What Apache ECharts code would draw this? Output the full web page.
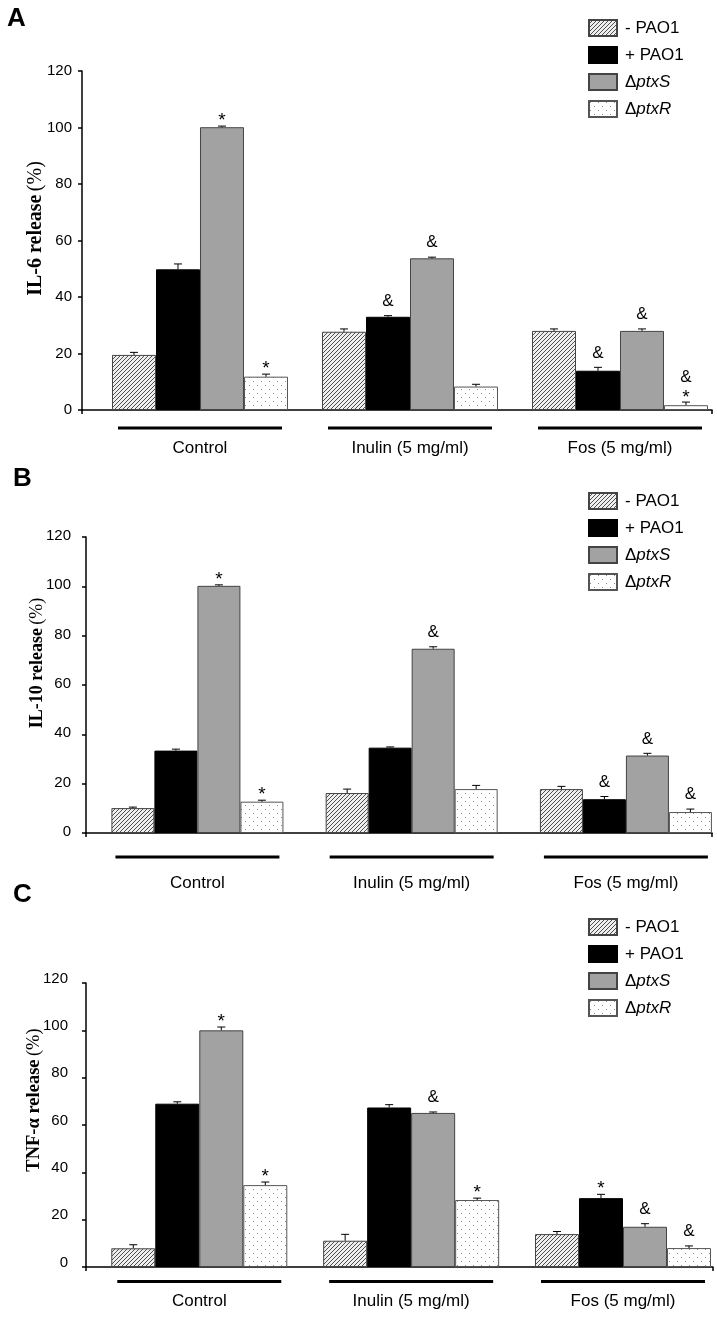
<!DOCTYPE html>
<html>
<head>
<meta charset="utf-8">
<script src="https://cdn.jsdelivr.net/npm/echarts@6/dist/echarts.min.js"></script>
<style>
html,body{margin:0;padding:0;background:#fff;}
#chart{width:717px;height:1318px;}
</style>
</head>
<body>
<div id="chart"></div>
<script>
// ---------- DATA ----------
const categories = ['Control', 'Inulin (5 mg/ml)', 'Fos (5 mg/ml)'];
const seriesNames = ['- PAO1', '+ PAO1', 'ΔptxS', 'ΔptxR'];
const yTickLabels = [0, 20, 40, 60, 80, 100, 120];

// Panel A: IL-6 release (%)
const il6Minus = [19.5, 27.7, 28.0];
const il6Plus  = [49.8, 33.0, 13.9];
const il6PtxS  = [100.1, 53.7, 28.0];
const il6PtxR  = [11.8, 8.3, 1.7];
const il6MinusErr = [0.9, 1.0, 0.7];
const il6PlusErr  = [1.9, 0.4, 1.2];
const il6PtxSErr  = [0.4, 0.4, 0.7];
const il6PtxRErr  = [0.9, 0.8, 1.1];
const il6Marks = [['', '', ''], ['', '&', '&'], ['*', '&', '&'], ['*', '', '&*']];

// Panel B: IL-10 release (%)
const il10Minus = [10.1, 16.2, 17.8];
const il10Plus  = [33.4, 34.6, 13.7];
const il10PtxS  = [100.2, 74.7, 31.4];
const il10PtxR  = [12.7, 17.8, 8.5];
const il10MinusErr = [0.4, 1.6, 1.1];
const il10PlusErr  = [0.6, 0.3, 1.1];
const il10PtxSErr  = [0.4, 0.8, 0.9];
const il10PtxRErr  = [0.6, 1.5, 1.2];
const il10Marks = [['', '', ''], ['', '', '&'], ['*', '&', '&'], ['*', '', '&']];

// Panel C: TNF-α release (%)
const tnfMinus = [7.9, 11.1, 13.9];
const tnfPlus  = [69.0, 67.4, 29.1];
const tnfPtxS  = [100.0, 65.1, 17.0];
const tnfPtxR  = [34.6, 28.3, 8.0];
const tnfMinusErr = [1.5, 2.7, 1.1];
const tnfPlusErr  = [0.8, 1.2, 1.6];
const tnfPtxSErr  = [1.4, 0.4, 1.3];
const tnfPtxRErr  = [1.3, 0.8, 0.9];
const tnfMarks = [['', '', ''], ['', '', '*'], ['*', '&', '&'], ['*', '*', '&']];

const panelTags = ['A', 'B', 'C'];
const yNames = [['IL-6 release', '(%)'], ['IL-10 release', '(%)'], ['TNF-α release', '(%)']];

// ---------- STYLE / LAYOUT ----------
const SANS = 'Liberation Sans, Arial, sans-serif';
const SERIF = 'Liberation Serif, Times New Roman, serif';

function hatchPattern() {
  const c = document.createElement('canvas');
  c.width = 4; c.height = 4;
  const g = c.getContext('2d');
  g.fillStyle = '#eeeeee'; g.fillRect(0, 0, 4, 4);
  g.strokeStyle = '#505050'; g.lineWidth = 1;
  g.beginPath();
  g.moveTo(0, 4); g.lineTo(4, 0);
  g.moveTo(-1, 1); g.lineTo(1, -1);
  g.moveTo(3, 5); g.lineTo(5, 3);
  g.stroke();
  return c;
}
function dotPattern() {
  const c = document.createElement('canvas');
  c.width = 8; c.height = 8;
  const g = c.getContext('2d');
  g.fillStyle = '#ffffff'; g.fillRect(0, 0, 8, 8);
  g.fillStyle = '#8a8a8a';
  g.fillRect(1, 1, 1, 1);
  g.fillRect(5, 5, 1, 1);
  return c;
}
const fills = [
  { image: hatchPattern(), repeat: 'repeat' },
  '#000000',
  '#a2a2a2',
  { image: dotPattern(), repeat: 'repeat' }
];
const borders = ['#444', '#000', '#444', '#555'];

// xMin/xMax place the three group centres (x = 0, 1, 2) where the reference has them
const layout = [
  { top: 71, height: 339, axisX: 82, axisW: 630, xMin: -0.5619, xMax: 2.4381, bw: 44,
    catOffset: 38, ulGap: 18, legendTop: 19, nameGap: 36, namePad: 24, nameSize: 20,
    tagLeft: 7, tagTop: 6, labelMargin: 10, labelLH: 0 },
  { top: 537, height: 296, axisX: 86, axisW: 626, xMin: -0.52, xMax: 2.4018, bw: 43,
    catOffset: 50.6, ulGap: 24, legendTop: 492, nameGap: 40, namePad: 44, nameSize: 18,
    tagLeft: 13, tagTop: 466, labelMargin: 15, labelLH: 2 },
  { top: 983, height: 284, axisX: 86, axisW: 627, xMin: -0.5348, xMax: 2.4249, bw: 44,
    catOffset: 34.4, ulGap: 14.4, legendTop: 918, nameGap: 42, namePad: 50, nameSize: 18.5,
    tagLeft: 13, tagTop: 882, labelMargin: 18, labelLH: 9 }
];

const panels = [
  { values: [il6Minus, il6Plus, il6PtxS, il6PtxR], errs: [il6MinusErr, il6PlusErr, il6PtxSErr, il6PtxRErr], marks: il6Marks },
  { values: [il10Minus, il10Plus, il10PtxS, il10PtxR], errs: [il10MinusErr, il10PlusErr, il10PtxSErr, il10PtxRErr], marks: il10Marks },
  { values: [tnfMinus, tnfPlus, tnfPtxS, tnfPtxR], errs: [tnfMinusErr, tnfPlusErr, tnfPtxSErr, tnfPtxRErr], marks: tnfMarks }
];

const option = {
  animation: false,
  backgroundColor: '#ffffff',
  title: [], legend: [], grid: [], xAxis: [], yAxis: [], series: []
};

panels.forEach((P, p) => {
  const L = layout[p];
  option.title.push({
    text: panelTags[p], left: L.tagLeft, top: L.tagTop, padding: 0,
    textStyle: { fontFamily: SANS, fontSize: 26, fontWeight: 'bold', color: '#000' }
  });
  option.legend.push({
    data: seriesNames, left: 588, top: L.legendTop, orient: 'vertical',
    itemWidth: 28, itemHeight: 16, itemGap: 9, padding: 0, selectedMode: false,
    icon: 'rect',
    formatter: n => n.charAt(0) === 'Δ' ? '{d|Δ}{i|' + n.slice(1) + '}' : '{t|' + n + '}',
    textStyle: {
      color: '#000', fontFamily: SANS, fontSize: 17, lineHeight: 17, padding: [0, 0, 0, 3],
      rich: {
        t: { fontFamily: SANS, fontSize: 17, lineHeight: 17, color: '#000' },
        d: { fontFamily: SANS, fontSize: 17, lineHeight: 17, color: '#000' },
        i: { fontFamily: SANS, fontSize: 17, lineHeight: 17, fontStyle: 'italic', color: '#000' }
      }
    }
  });
  option.grid.push({ left: L.axisX, width: L.axisW, top: L.top, height: L.height });

  option.xAxis.push({
    gridIndex: p, type: 'value', min: L.xMin, max: L.xMax,
    axisLine: { show: true, onZero: false, lineStyle: { color: '#000', width: 1.5 } },
    axisTick: { show: true, length: 4, customValues: [L.xMin, L.xMax], lineStyle: { color: '#000', width: 1.5 } },
    axisLabel: { show: false }, splitLine: { show: false }
  });
  const labelStyle = L.labelLH > 0
    ? { verticalAlign: 'bottom', lineHeight: L.labelLH }
    : { verticalAlign: 'middle' };
  option.yAxis.push({
    gridIndex: p, type: 'value', min: 0, max: 120, interval: 20,
    axisLine: { show: true, onZero: false, lineStyle: { color: '#000', width: 1.5 } },
    axisTick: { show: true, length: 4, lineStyle: { color: '#000', width: 1.5 } },
    axisLabel: Object.assign({
      margin: L.labelMargin, fontFamily: SANS, fontSize: 15, color: '#000',
      formatter: v => String(yTickLabels[yTickLabels.indexOf(v)])
    }, labelStyle),
    splitLine: { show: false },
    name: '{b|' + yNames[p][0] + '} {n|' + yNames[p][1] + '}',
    nameLocation: 'middle', nameGap: L.nameGap, nameRotate: 90, nameMoveOverlap: false,
    nameTextStyle: {
      padding: [0, 0, 0, L.namePad],
      rich: {
        b: { fontFamily: SERIF, fontSize: L.nameSize, fontWeight: 'bold', color: '#000' },
        n: { fontFamily: SERIF, fontSize: L.nameSize, color: '#000' }
      }
    }
  });

  seriesNames.forEach((nm, s) => {
    option.series.push({
      type: 'bar', name: nm, xAxisIndex: p, yAxisIndex: p,
      data: P.values[s].map((v, c) => [c, v]), barWidth: L.bw, barGap: '0%',
      itemStyle: { color: fills[s], borderColor: borders[s], borderWidth: 1 },
      silent: true
    });
  });

  // error bars + significance marks
  const errData = [];
  for (let s = 0; s < 4; s++) for (let c = 0; c < 3; c++) errData.push([c, s, P.values[s][c], P.errs[s][c]]);
  option.series.push({
    type: 'custom', xAxisIndex: p, yAxisIndex: p, data: errData, z: 10, silent: true,
    encode: { x: 0, y: 2 },
    renderItem: (params, api) => {
      const c = api.value(0), s = api.value(1), v = api.value(2), e = api.value(3);
      const base = api.coord([c, v]);
      const top = api.coord([c, v + e]);
      const x = base[0] + (s - 1.5) * L.bw;
      const children = [
        { type: 'line', shape: { x1: x, y1: base[1], x2: x, y2: top[1] }, style: { stroke: '#000', lineWidth: 1 } },
        { type: 'line', shape: { x1: x - 4, y1: top[1], x2: x + 4, y2: top[1] }, style: { stroke: '#000', lineWidth: 1 } }
      ];
      const m = P.marks[s][c];
      const amp = { fontFamily: SANS, fontSize: 17, fill: '#000', align: 'center', verticalAlign: 'bottom' };
      const star = { fontFamily: SANS, fontSize: 19, fill: '#000', align: 'center', verticalAlign: 'bottom' };
      if (m === '*') {
        children.push({ type: 'text', x: x, y: top[1] + 4, style: Object.assign({ text: '*' }, star) });
      } else if (m === '&') {
        children.push({ type: 'text', x: x, y: top[1] - 6, style: Object.assign({ text: '&' }, amp) });
      } else if (m === '&*') {
        children.push({ type: 'text', x: x, y: top[1] + 5, style: Object.assign({ text: '*' }, star) });
        children.push({ type: 'text', x: x, y: top[1] - 16, style: Object.assign({ text: '&' }, amp) });
      }
      return { type: 'group', children: children };
    }
  });

  // group underlines + group names
  option.series.push({
    type: 'custom', xAxisIndex: p, yAxisIndex: p, data: categories.map((c, i) => [i, 0]), z: 5, silent: true,
    encode: { x: 0, y: 1 },
    renderItem: (params, api) => {
      const pt = api.coord([api.value(0), 0]);
      return { type: 'group', children: [
        { type: 'line', shape: { x1: pt[0] - 82, y1: pt[1] + L.ulGap, x2: pt[0] + 82, y2: pt[1] + L.ulGap },
          style: { stroke: '#000', lineWidth: 3 } },
        { type: 'text', x: pt[0], y: pt[1] + L.catOffset,
          style: { text: categories[params.dataIndex], fontFamily: SANS, fontSize: 17, fill: '#000',
                   align: 'center', verticalAlign: 'middle' } }
      ] };
    }
  });
});

const chart = echarts.init(document.getElementById('chart'), null, { renderer: 'canvas' });
chart.setOption(option);
</script>
</body>
</html>
